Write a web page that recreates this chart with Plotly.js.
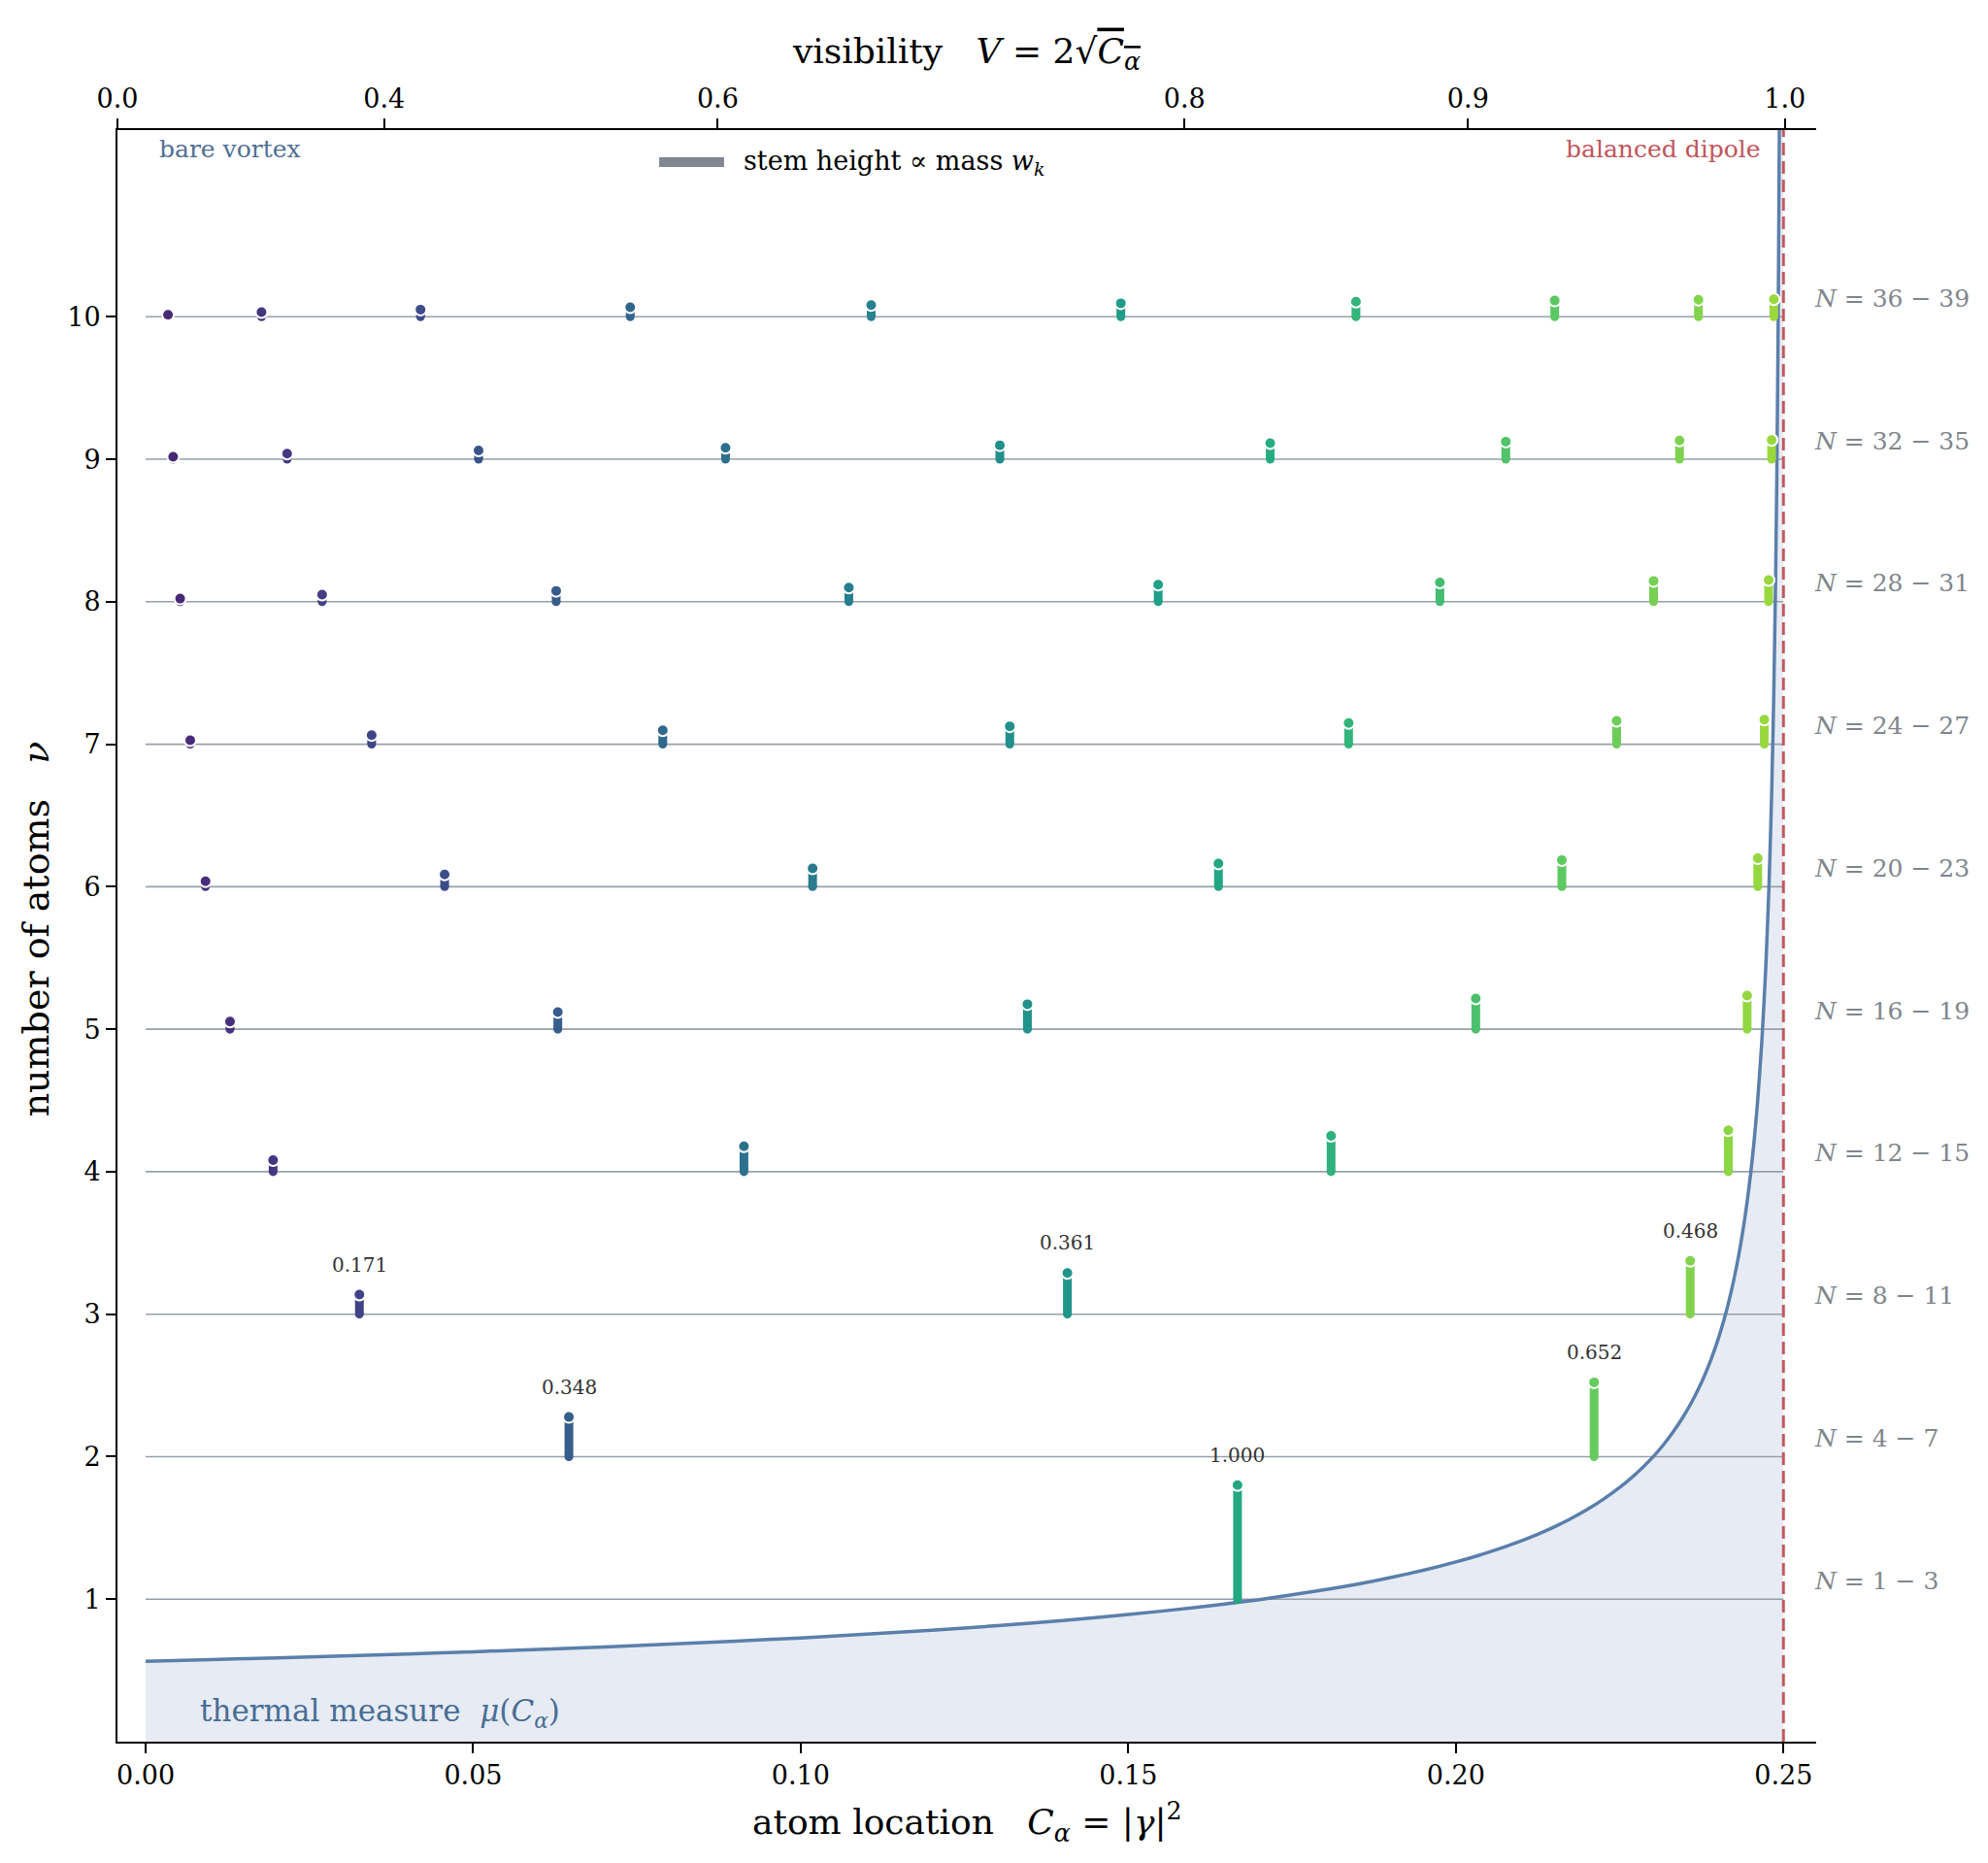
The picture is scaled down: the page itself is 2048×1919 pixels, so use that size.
<!DOCTYPE html>
<html>
<head>
<meta charset="utf-8">
<script src="https://cdn.plot.ly/plotly-3.0.1.min.js"></script>
<style>html,body{margin:0;padding:0;background:#fff}</style>
</head>
<body>
<div id="chart" style="width:2048px;height:1919px"></div>
<script>
// rows: number of atoms nu
const nuLevels = [1, 2, 3, 4, 5, 6, 7, 8, 9, 10];

// atom locations C_alpha for each row
const atomLocations = [
  [0.16667],
  [0.06461, 0.22110],
  [0.03263, 0.14070, 0.23577],
  [0.01946, 0.09133, 0.18095, 0.24159],
  [0.01288, 0.06292, 0.13460, 0.20304, 0.24446],
  [0.00914, 0.04564, 0.10181, 0.16376, 0.21618, 0.24608],
  [0.00681, 0.03450, 0.07894, 0.13191, 0.18363, 0.22454, 0.24708],
  [0.00527, 0.02694, 0.06267, 0.10734, 0.15456, 0.19756, 0.23018, 0.24774],
  [0.00420, 0.02160, 0.05082, 0.08852, 0.13039, 0.17166, 0.20762, 0.23414, 0.24820],
  [0.00342, 0.01769, 0.04196, 0.07397, 0.11075, 0.14886, 0.18475, 0.21509, 0.23703, 0.24854]
];

// atom masses w_k (stem heights)
const atomMasses = [
  [1.0000],
  [0.3479, 0.6521],
  [0.1713, 0.3608, 0.4679],
  [0.1012, 0.2224, 0.3137, 0.3627],
  [0.0667, 0.1495, 0.2191, 0.2693, 0.2955],
  [0.0472, 0.1069, 0.1601, 0.2032, 0.2335, 0.2491],
  [0.0351, 0.0802, 0.1215, 0.1572, 0.1855, 0.2052, 0.2153],
  [0.0272, 0.0623, 0.0952, 0.1246, 0.1496, 0.1692, 0.1826, 0.1895],
  [0.0216, 0.0497, 0.0764, 0.1009, 0.1226, 0.1406, 0.1547, 0.1643, 0.1691],
  [0.0176, 0.0406, 0.0627, 0.0833, 0.1019, 0.1182, 0.1317, 0.1421, 0.1492, 0.1528]
];

// row labels on the right
const countLabels = ['1 − 3', '4 − 7', '8 − 11', '12 − 15', '16 − 19',
                     '20 − 23', '24 − 27', '28 − 31', '32 − 35', '36 − 39'];

// thermal measure mu(C)
const curveC = [0, 0.01, 0.02, 0.03, 0.04, 0.05, 0.06, 0.07, 0.08, 0.09, 0.10,
  0.11, 0.12, 0.13, 0.14, 0.15, 0.16, 0.17, 0.18, 0.185, 0.19, 0.195, 0.20,
  0.205, 0.21, 0.2125, 0.215, 0.2175, 0.22, 0.2225, 0.225, 0.2275, 0.23,
  0.2315, 0.233, 0.2345, 0.236, 0.237, 0.238, 0.239, 0.240, 0.241, 0.242,
  0.243, 0.2435, 0.244, 0.2445, 0.245, 0.2455, 0.246, 0.2467, 0.2473, 0.2478,
  0.2482, 0.2485, 0.2488, 0.2490, 0.2492, 0.2494, 0.2496, 0.2498, 0.24995];
const curveMu = [0.564, 0.576, 0.588, 0.601, 0.615, 0.631, 0.647, 0.665, 0.684,
  0.705, 0.728, 0.754, 0.782, 0.814, 0.850, 0.892, 0.940, 0.997, 1.066, 1.106,
  1.151, 1.202, 1.261, 1.329, 1.410, 1.456, 1.507, 1.564, 1.628, 1.701, 1.784,
  1.880, 1.994, 2.073, 2.163, 2.265, 2.383, 2.473, 2.574, 2.689, 2.820, 2.972,
  3.153, 3.371, 3.498, 3.641, 3.803, 3.988, 4.204, 4.459, 4.909, 5.427, 6.012,
  6.647, 7.281, 8.141, 8.917, 9.970, 11.512, 14.10, 19.94, 39.9];

// axes
const cTicks = [0, 0.05, 0.10, 0.15, 0.20, 0.25];
const cTickText = ['0.00', '0.05', '0.10', '0.15', '0.20', '0.25'];
const visTicks = [0.0, 0.4, 0.6, 0.8, 0.9, 1.0];
const visTickText = ['0.0', '0.4', '0.6', '0.8', '0.9', '1.0'];
const cEdge = 0.25;          // balanced dipole
const yTop = 11.31;
const stemScale = 0.8;       // stem height per unit mass
const labelRows = 3;         // rows with printed masses

// viridis, trimmed to 0.1 .. 0.85
const viridis = ['#440154', '#48186a', '#472d7b', '#424086', '#3b528b', '#33638d',
  '#2c728e', '#26828e', '#21918c', '#1fa088', '#28ae80', '#3fbc73', '#5ec962',
  '#84d44b', '#addc30', '#d8e219', '#fde725'];
function hex2rgb(h) {
  return [parseInt(h.slice(1, 3), 16), parseInt(h.slice(3, 5), 16), parseInt(h.slice(5, 7), 16)];
}
function colorAt(c) {
  let t = 0.1 + 0.75 * c / cEdge;
  let p = t * (viridis.length - 1);
  let i = Math.min(Math.floor(p), viridis.length - 2);
  let f = p - i;
  let a = hex2rgb(viridis[i]), b = hex2rgb(viridis[i + 1]);
  let rgb = a.map((v, j) => Math.round(v + (b[j] - v) * f));
  return 'rgb(' + rgb.join(',') + ')';
}

const serif = 'DejaVu Serif';
let traces = [];

traces.push({
  x: curveC, y: curveMu, mode: 'lines', line: {width: 0, color: 'rgba(0,0,0,0)', shape: 'spline', smoothing: 0.5},
  fill: 'tozeroy', fillcolor: '#e7ecf4', hoverinfo: 'skip'
});

// baseline for each row
let gx = [], gy = [];
nuLevels.forEach(nu => { gx.push(0, cEdge, null); gy.push(nu, nu, null); });
traces.push({x: gx, y: gy, mode: 'lines', line: {color: '#97a0aa', width: 1.6}, hoverinfo: 'skip'});

traces.push({
  x: curveC, y: curveMu, mode: 'lines',
  line: {color: '#5b7fab', width: 3.5, shape: 'spline', smoothing: 0.5}, hoverinfo: 'skip'
});

traces.push({
  x: [cEdge, cEdge], y: [0, yTop], mode: 'lines',
  line: {color: '#c25a5e', width: 3, dash: '13px,6px'}, hoverinfo: 'skip'
});

// keeps the visibility axis on top
traces.push({x: [null], y: [null], xaxis: 'x2', mode: 'markers', hoverinfo: 'skip'});

let capX = [], capY = [], tipX = [], tipY = [], cols = [];
let annotations = [];
nuLevels.forEach((nu, r) => {
  atomLocations[r].forEach((c, k) => {
    let w = atomMasses[r][k];
    let top = nu + stemScale * w;
    let col = colorAt(c);
    traces.push({x: [c, c], y: [nu, top], mode: 'lines', line: {color: col, width: 9}, hoverinfo: 'skip'});
    capX.push(c); capY.push(nu); tipX.push(c); tipY.push(top); cols.push(col);
    if (r < labelRows) {
      annotations.push({
        x: c, y: top, xref: 'x', yref: 'y', yshift: 31, showarrow: false,
        text: w.toFixed(3), font: {family: serif, size: 20, color: '#333333'}
      });
    }
  });
});
traces.push({x: capX, y: capY, mode: 'markers', marker: {color: cols, size: 9, line: {width: 0}}, hoverinfo: 'skip'});
traces.push({x: tipX, y: tipY, mode: 'markers', marker: {color: cols, size: 12, line: {color: '#ffffff', width: 2}}, hoverinfo: 'skip'});

nuLevels.forEach((nu, r) => {
  annotations.push({
    x: 1, xref: 'paper', y: nu, yref: 'y', xanchor: 'left', yanchor: 'middle',
    xshift: -4, yshift: 19, showarrow: false,
    text: '<i>N</i> = ' + countLabels[r], font: {family: serif, size: 25, color: '#80868c'}
  });
});

annotations.push(
  {x: 0.0234, y: 0.988, xref: 'paper', yref: 'paper', xanchor: 'left', yanchor: 'middle', showarrow: false,
   text: 'bare vortex', font: {family: serif, size: 25, color: '#4f7096'}},
  {x: 0.9686, y: 0.988, xref: 'paper', yref: 'paper', xanchor: 'right', yanchor: 'middle', showarrow: false,
   text: 'balanced dipole', font: {family: serif, size: 25, color: '#c0555a'}},
  {x: 0.3674, y: 0.9801, xref: 'paper', yref: 'paper', xanchor: 'left', yanchor: 'middle', showarrow: false,
   text: 'stem height ∝ mass <i>w</i><sub><i>k</i></sub>', font: {family: serif, size: 27, color: '#000000'}},
  {x: 0.0474, y: 0.0175, xref: 'paper', yref: 'paper', xanchor: 'left', yanchor: 'middle', showarrow: false,
   text: 'thermal measure\u00a0\u00a0<i>μ</i>(<i>C</i><sub><i>α</i></sub>)', font: {family: serif, size: 31, color: '#4a6d94'}},
  {x: 0.5, y: -0.05, xref: 'paper', yref: 'paper', xanchor: 'center', yanchor: 'middle', showarrow: false,
   text: 'atom location\u00a0\u00a0\u00a0<i>C</i><sub><i>α</i></sub> = |<i>γ</i>|<sup>2</sup>', font: {family: serif, size: 36, color: '#000000'}},
  {x: -0.048, y: 0.504, xref: 'paper', yref: 'paper', xanchor: 'center', yanchor: 'middle', showarrow: false, textangle: -90,
   text: 'number of atoms\u00a0\u00a0\u00a0<i>ν</i>', font: {family: serif, size: 38, color: '#000000'}}
);

const axisStyle = {
  ticks: 'outside', ticklen: 10, tickwidth: 2, tickcolor: '#000000',
  showline: true, linewidth: 2, linecolor: '#000000',
  showgrid: false, zeroline: false,
  tickfont: {family: serif, size: 27, color: '#000000'}
};

const layout = {
  width: 2048, height: 1919,
  margin: {l: 121, r: 177, t: 134, b: 125},
  paper_bgcolor: '#ffffff', plot_bgcolor: '#ffffff',
  font: {family: serif},
  showlegend: false,
  title: {
    text: 'visibility\u00a0\u00a0\u00a0<i>V</i> = 2√<span style="text-decoration:overline"><i>C</i><sub><i>α</i></sub></span>',
    x: 0.4863, xref: 'container', xanchor: 'center',
    y: 0.9729, yref: 'container', yanchor: 'middle',
    font: {family: serif, size: 36, color: '#000000'}
  },
  xaxis: Object.assign({}, axisStyle, {
    range: [-0.0043, 0.2550], tickmode: 'array', tickvals: cTicks, ticktext: cTickText
  }),
  xaxis2: Object.assign({}, axisStyle, {
    overlaying: 'x', side: 'top', anchor: 'y', range: [0, 0.2547], tickmode: 'array',
    tickvals: visTicks.map(v => v * v / 4), ticktext: visTickText
  }),
  yaxis: Object.assign({}, axisStyle, {
    range: [0, yTop], tickmode: 'array', tickvals: nuLevels, ticktext: nuLevels.map(String)
  }),
  shapes: [{
    type: 'line', xref: 'paper', yref: 'paper', x0: 0.3189, x1: 0.3571, y0: 0.9801, y1: 0.9801,
    line: {color: '#7f8790', width: 10}
  }],
  annotations: annotations
};

Plotly.newPlot('chart', traces, layout, {displayModeBar: false});
</script>
</body>
</html>
